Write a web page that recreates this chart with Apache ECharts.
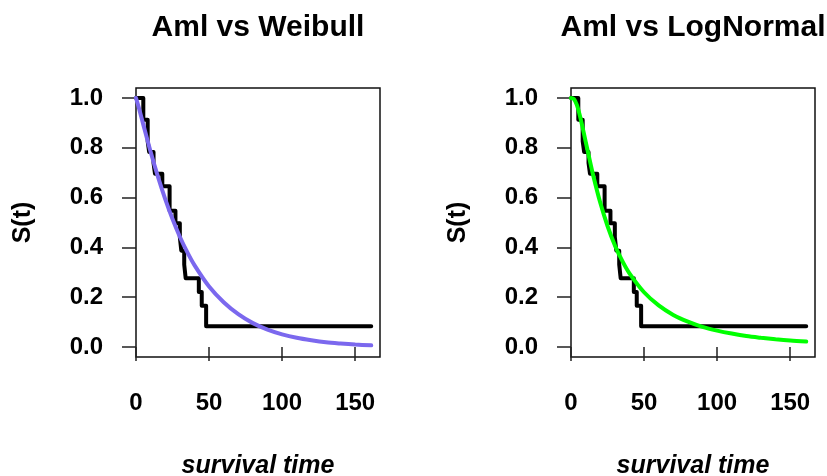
<!DOCTYPE html>
<html>
<head>
<meta charset="utf-8">
<script src="https://cdn.jsdelivr.net/npm/echarts@6/dist/echarts.min.js"></script>
<style>
  html, body { margin: 0; padding: 0; background: #fff; }
  #chart { width: 827px; height: 476px; }
</style>
</head>
<body>
<div id="chart"></div>
<script>
  // Kaplan-Meier estimate for aml (time, S)
  let kmTime = [0, 5, 8, 9, 12, 13, 18, 23, 27, 30, 31, 33, 34, 43, 45, 48, 161]
  let kmSurv = [1, 0.913, 0.826, 0.783, 0.739, 0.696, 0.646, 0.547, 0.497, 0.442, 0.387, 0.331, 0.276, 0.221, 0.166, 0.083, 0.083]

  // fitted curves
  let weibTime = [0, 2, 5, 10, 15, 20, 25, 30, 35, 40, 50, 60, 70, 80, 90, 100, 110, 120, 130, 140, 150, 161]
  let weibSurv = [1, 0.96, 0.893, 0.784, 0.684, 0.594, 0.514, 0.443, 0.382, 0.329, 0.243, 0.180, 0.132, 0.096, 0.070, 0.051, 0.037, 0.027, 0.019, 0.014, 0.010, 0.007]
  let lnormTime = [0, 2, 4, 6, 8, 10, 12, 15, 20, 25, 30, 35, 40, 50, 60, 70, 80, 90, 100, 110, 120, 130, 140, 150, 161]
  let lnormSurv = [1, 0.996, 0.972, 0.931, 0.880, 0.826, 0.772, 0.694, 0.580, 0.486, 0.409, 0.347, 0.296, 0.220, 0.167, 0.129, 0.102, 0.081, 0.066, 0.054, 0.044, 0.037, 0.031, 0.026, 0.022]

  let xTicks = [0, 50, 100, 150]
  let yTicks = [0, 0.2, 0.4, 0.6, 0.8, 1.0]
  let titles = ['Aml vs Weibull', 'Aml vs LogNormal']
  let fitColors = ['#7b68ee', '#00ff00']

  let font = 'Liberation Sans, Arial, sans-serif'
  let pairs = function (xs, ys) {
    return xs.map(function (x, i) { return [x, ys[i]] })
  }

  let gridLefts = [136, 571]
  let myChart = echarts.init(document.getElementById('chart'))

  let option = {
    animation: false,
    backgroundColor: '#fff',
    title: titles.map(function (t, i) {
      return {
        text: t,
        left: gridLefts[i] + 122,
        top: 13,
        padding: 0,
        textAlign: 'center',
        textStyle: { fontSize: 30, fontWeight: 'bold', color: '#000', fontFamily: font }
      }
    }),
    grid: gridLefts.map(function (l) {
      return {
        left: l,
        top: 88,
        width: 244,
        height: 269,
        outerBoundsMode: 'none',
        containLabel: false,
        show: true,
        borderColor: '#111',
        borderWidth: 1.5
      }
    }),
    xAxis: gridLefts.map(function (l, i) {
      return {
        type: 'value',
        gridIndex: i,
        min: 0,
        max: 167,
        name: 'survival time',
        nameLocation: 'middle',
        nameGap: 97,
        nameTextStyle: { fontSize: 25, fontWeight: 'bold', fontStyle: 'italic', color: '#000', fontFamily: font },
        axisLine: { show: false },
        splitLine: { show: false },
        axisTick: {
          show: true,
          length: 14,
          customValues: xTicks,
          lineStyle: { color: '#222', width: 1.5 }
        },
        axisLabel: {
          customValues: xTicks,
          margin: 34,
          fontSize: 24,
          fontWeight: 'bold',
          color: '#000',
          fontFamily: font
        }
      }
    }),
    yAxis: gridLefts.map(function (l, i) {
      return {
        type: 'value',
        gridIndex: i,
        min: -0.04,
        max: 1.04,
        name: 'S(t)',
        nameLocation: 'middle',
        nameRotate: 90,
        nameGap: 100,
        nameTextStyle: { fontSize: 25, fontWeight: 'bold', color: '#000', fontFamily: font },
        axisLine: { show: false },
        splitLine: { show: false },
        axisTick: {
          show: true,
          length: 14,
          customValues: yTicks,
          lineStyle: { color: '#222', width: 1.5 }
        },
        axisLabel: {
          customValues: yTicks,
          margin: 33,
          fontSize: 24,
          fontWeight: 'bold',
          color: '#000',
          fontFamily: font,
          formatter: function (v) { return v.toFixed(1) }
        }
      }
    }),
    series: [
      {
        name: 'KM Weibull',
        type: 'line',
        xAxisIndex: 0,
        yAxisIndex: 0,
        step: 'end',
        symbol: 'none',
        lineStyle: { color: '#000', width: 4, cap: 'round', join: 'round' },
        data: pairs(kmTime, kmSurv)
      },
      {
        name: 'Weibull',
        type: 'line',
        xAxisIndex: 0,
        yAxisIndex: 0,
        smooth: 0.3,
        symbol: 'none',
        lineStyle: { color: fitColors[0], width: 4, cap: 'round' },
        data: pairs(weibTime, weibSurv)
      },
      {
        name: 'KM LogNormal',
        type: 'line',
        xAxisIndex: 1,
        yAxisIndex: 1,
        step: 'end',
        symbol: 'none',
        lineStyle: { color: '#000', width: 4, cap: 'round', join: 'round' },
        data: pairs(kmTime, kmSurv)
      },
      {
        name: 'LogNormal',
        type: 'line',
        xAxisIndex: 1,
        yAxisIndex: 1,
        smooth: 0.3,
        symbol: 'none',
        lineStyle: { color: fitColors[1], width: 4, cap: 'round' },
        data: pairs(lnormTime, lnormSurv)
      }
    ]
  }
  myChart.setOption(option)
</script>
</body>
</html>
